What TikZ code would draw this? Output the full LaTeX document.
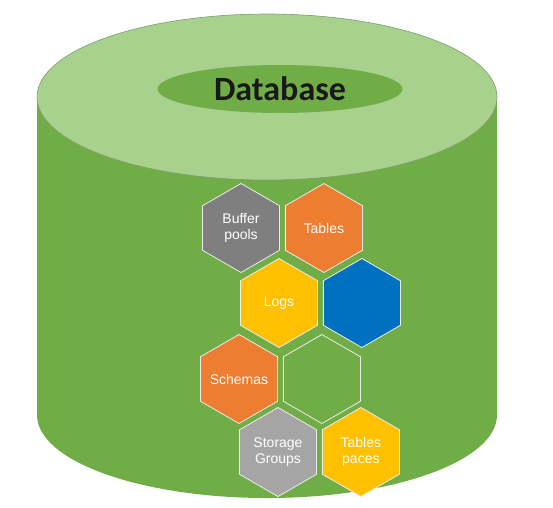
\documentclass[tikz,border=0pt]{standalone}
\usepackage{fontspec}
\setmainfont{Liberation Sans}
\newfontfamily\titlefont{Carlito}
\usetikzlibrary{shapes.geometric,positioning}

\definecolor{dbgreen}{HTML}{70AD47}
\definecolor{dblight}{HTML}{A9D18E}
\definecolor{rimline}{HTML}{7F9C70}
\definecolor{hexgray}{HTML}{7F7F7F}
\definecolor{hexsilver}{HTML}{A5A5A5}
\definecolor{hexorange}{HTML}{ED7D31}
\definecolor{hexyellow}{HTML}{FFC000}
\definecolor{hexblue}{HTML}{0070C0}

\tikzstyle{hexa} = [draw=white!85!gray, line width=0.8pt, regular polygon, regular polygon sides=6, shape border rotate=30, minimum size=89pt, inner sep=-12pt, text=white, font=\fontsize{14}{16}\selectfont, align=center]
\tikzstyle{disc} = [ellipse, inner sep=0pt]

\begin{document}
\begin{tikzpicture}[x=1pt,y=-1pt]
\useasboundingbox (0,0) rectangle (553,507);
\fill[dbgreen] (37,97) rectangle (497,415);
\node[disc, fill=dbgreen, minimum width=460pt, minimum height=166pt] (base) at (267,415) {};
\node[disc, fill=dblight, draw=rimline, line width=0.6pt, minimum width=460pt, minimum height=166pt] (lid) at (267,97) {};
\node[disc, fill=dbgreen, minimum width=245pt, minimum height=48pt, text=black!90, font=\titlefont\bfseries\fontsize{34}{38}\selectfont] (db) at (280,89) {Database};

\node[hexa, fill=hexgray] (buffer) at (241,228) {Buffer\\pools};
\node[hexa, fill=hexorange, right=5pt of buffer] (tables) {Tables};
\node[hexa, fill=hexyellow] (logs) at (279,303) {Logs};
\node[hexa, fill=hexblue, right=5pt of logs] (blank) {};
\node[hexa, fill=hexorange] (schemas) at (239,379) {Schemas};
\node[hexa, fill=dbgreen, right=5pt of schemas] (spare) {};
\node[hexa, fill=hexsilver] (storage) at (278,452) {Storage\\Groups};
\node[hexa, fill=hexyellow, right=5pt of storage] (tablespaces) {Tables\\paces};

\end{tikzpicture}
\end{document}
